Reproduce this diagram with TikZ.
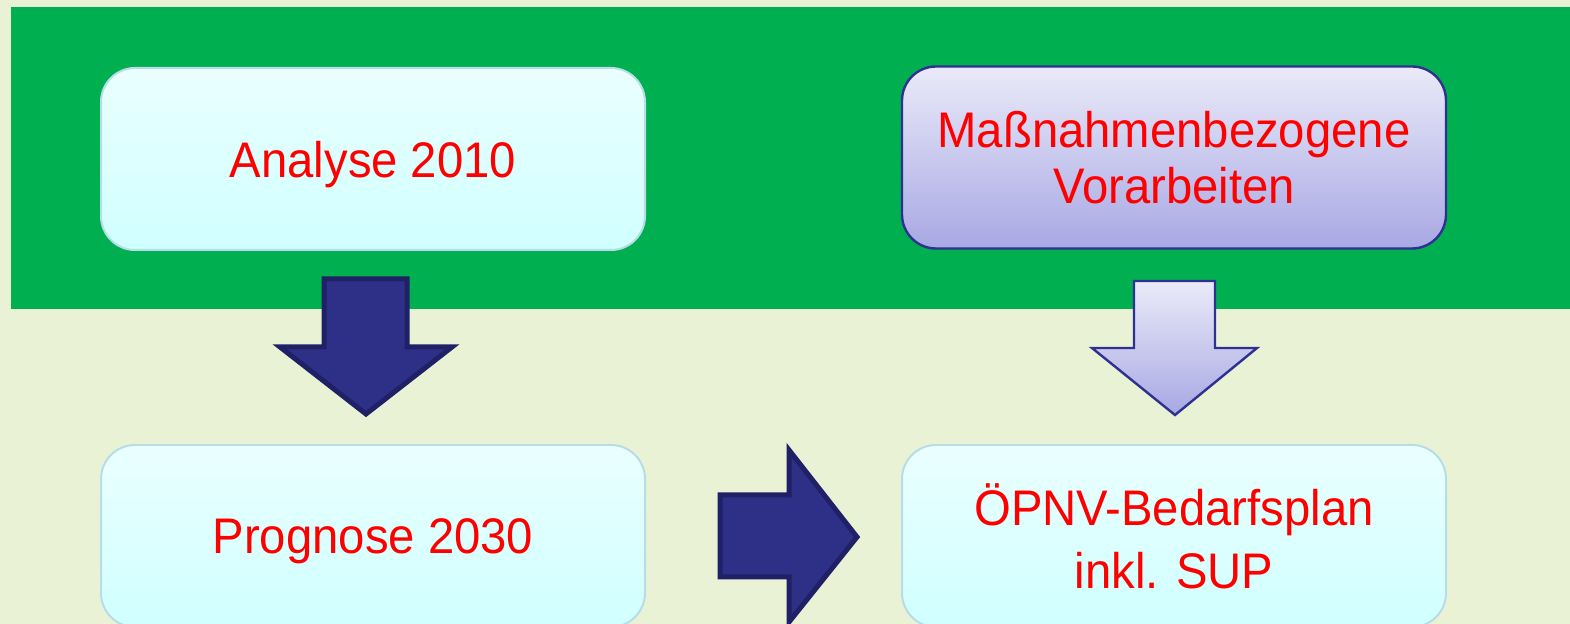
\documentclass[tikz,border=0pt]{standalone}
\usepackage{fontspec}
\setmainfont{Liberation Sans}[FakeStretch=0.945]
\definecolor{bgbeige}{RGB}{234,242,214}
\definecolor{bandgreen}{RGB}{0,176,80}
\definecolor{cyantop}{RGB}{234,255,255}
\definecolor{cyanbot}{RGB}{208,255,255}
\definecolor{cyanline}{RGB}{183,221,232}
\definecolor{violtop}{RGB}{234,234,249}
\definecolor{violbot}{RGB}{168,168,228}
\definecolor{violline}{RGB}{46,49,146}
\definecolor{arrowfill}{RGB}{46,48,135}
\definecolor{arrowline}{RGB}{31,32,102}

\begin{document}
\begin{tikzpicture}[x=0.5pt, y=-0.5pt,
  box/.style={rectangle, rounded corners=17pt, minimum width=272pt, minimum height=91pt, inner sep=0pt, align=center, text=red, font=\fontsize{25}{28}\selectfont},
  lightbox/.style={box, draw=cyanline, line width=1pt, top color=cyantop, bottom color=cyanbot},
  violbox/.style={box, draw=violline, line width=1.2pt, top color=violtop, bottom color=violbot},
  darkarrow/.style={fill=arrowfill, draw=arrowline, line width=2.5pt, line join=miter},
  lightarrow/.style={draw=violline, line width=1.2pt, top color=violtop, bottom color=violbot}]
%Background
\fill[bgbeige] (0,0) rectangle (1570,624);
\fill[bandgreen] (11,7) rectangle (1570,309);
\useasboundingbox (0,0) rectangle (1570,624);

% Boxes
\node[lightbox, text depth=0pt] (ana) at (373,159) {Analyse 2010};
\node[violbox] (mass) at (1174,157.5) {Maßnahmenbezogene\\Vorarbeiten};
\node[lightbox, text depth=0pt] (prog) at (373,536) {Prognose 2030};
\node[lightbox, font=\fontsize{25}{31.5}\selectfont] (oepnv) at (1174,536) {ÖPNV-Bedarfsplan\\inkl. SUP};

%Arrows
\draw[darkarrow] (324,279) -- (407,279) -- (407,347) -- (452,347) -- (366,414) -- (280,347) -- (324,347) -- cycle;
\draw[lightarrow] (1134,281) -- (1215,281) -- (1215,348) -- (1257,348) -- (1175,415) -- (1092,348) -- (1134,348) -- cycle;
\draw[darkarrow] (720,495) -- (789,495) -- (789,450) -- (857,537) -- (789,622) -- (789,577) -- (720,577) -- cycle;
\end{tikzpicture}
\end{document}
